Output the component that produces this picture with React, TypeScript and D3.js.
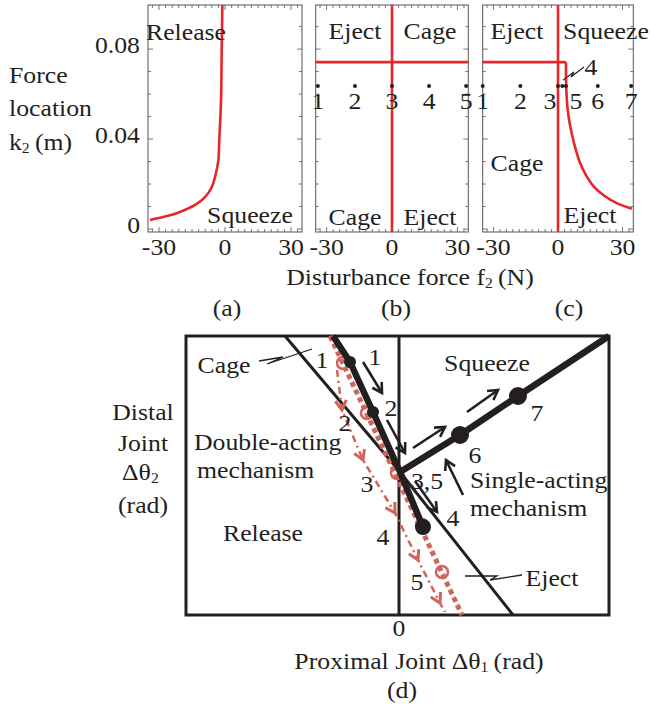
import React from "react";
import * as d3 from "d3";

// ---------- data: panels (a)-(c) ----------
const forceTicks = [-30, 0, 30];
const forceTickLabels = ["-30", "0", "30"];
const kTicks = [0, 0.04, 0.08];
const kTickLabels = ["0", "0.04", "0.08"];

const releaseF = [-1.2, -1.5, -1.8, -2.6, -3.0, -4.1, -6.0, -9.1, -13.6, -20.5, -28.2, -34.1];
const releaseK = [0.0996, 0.0796, 0.0573, 0.0396, 0.0307, 0.0249, 0.0187, 0.0142, 0.0107, 0.0076, 0.0053, 0.004];

const thresholdK = 0.0742;
const ejectF = [3.7, 3.8, 4.4, 5.6, 7.5, 10.0, 13.0, 17.0, 21.5, 27.3, 34.3];
const ejectK = [0.0742, 0.064, 0.054, 0.046, 0.038, 0.03, 0.024, 0.0185, 0.0148, 0.0115, 0.009];

const dotK = 0.0636;
const bDotF = [-34, -17, 0, 17, 34];
const bDotLabels = ["1", "2", "3", "4", "5"];
const cDotF = [-35, -17.5, 0, 2, 3.7, 18.5, 34];
const cDotLabels = ["1", "2", "3", "4", "5", "6", "7"];
const cLeaderF = [2.3, 7.4, 6.0, 12.1];
const cLeaderK = [0.0662, 0.0698, 0.0676, 0.072];

// ---------- data: panel (d) ----------
const boundaryU = [-1.14, 0.01, 1.14];
const boundaryV = [1.36, 0, -1.43];
const doubleU = [-0.66, -0.49, -0.26, 0.01, 0.24];
const doubleV = [1.36, 1.1, 0.6, 0, -0.55];
const singleU = [0.01, 0.61, 1.19, 2.1];
const singleV = [0, 0.37, 0.76, 1.36];
const blackDotU = [-0.49, -0.26, 0.24, 0.61, 1.19];
const blackDotV = [1.1, 0.6, -0.55, 0.37, 0.76];
const blackDotSize = [6, 6, 8, 9, 9];
const redPathU = [-0.69, 0.63];
const redPathV = [1.36, -1.43];
const redCircleU = [-0.56, -0.32, -0.02, 0.23, 0.43];
const redCircleV = [1.09, 0.59, -0.01, -0.53, -1.0];
const redDashU = [-0.62, -0.57, -0.36, -0.04, 0.19, 0.41, 0.46];
const redDashV = [1.02, 0.62, 0.12, -0.41, -0.88, -1.31, -1.4];
// arrows: [u0, v0, u1, v1]
const arrowsD = [
  [-0.36, 1.1, -0.17, 0.79],
  [-0.12, 0.52, 0.06, 0.19],
  [0.16, -0.09, 0.38, -0.4],
  [0.64, -0.23, 0.47, 0.12],
  [0.14, 0.24, 0.46, 0.45],
  [0.68, 0.6, 0.99, 0.82],
];
const cageLeaderU = [-1.4, -1.16, -1.32, -0.87];
const cageLeaderV = [1.11, 1.15, 1.08, 1.23];
const ejectLeaderU = [0.66, 0.98, 0.91, 1.23];
const ejectLeaderV = [-1.04, -1.04, -1.08, -1.03];

const FONT = "'Liberation Serif', 'Times New Roman', Times, serif";
const FS = 23;
const SX = 1.12;
const INK = "#231f20";
const RED = "#e8262a";
const SALMON = "#d3645b";

function Txt({ x, y, anchor = "middle", size = FS, children }: any) {
  return (
    <text
      transform={`translate(${x},${y}) scale(${SX},1)`}
      textAnchor={anchor}
      dominantBaseline="central"
      fontSize={size}
      fontFamily={FONT}
      fill={INK}
    >
      {children}
    </text>
  );
}

function Sub({ children }: any) {
  return (
    <>
      <tspan fontSize={14} dy={6}>{children}</tspan>
      <tspan dy={-6}>{"\u2009"}</tspan>
    </>
  );
}

function arrowHead(x0: number, y0: number, x1: number, y1: number, len = 11) {
  const a = Math.atan2(y1 - y0, x1 - x0);
  const a1 = a + (Math.PI * 5) / 6;
  const a2 = a - (Math.PI * 5) / 6;
  return `M${x1 + len * Math.cos(a1)},${y1 + len * Math.sin(a1)}L${x1},${y1}L${x1 + len * Math.cos(a2)},${y1 + len * Math.sin(a2)}`;
}

export default function App() {
  const yK = d3.scaleLinear().domain([-0.00133, 0.0996]).range([232, 5]);
  const panels = [
    { x0: 148, x1: 302 },
    { x0: 315.7, x1: 468.3 },
    { x0: 482.7, x1: 633.3 },
  ];
  const xs = panels.map((p) => d3.scaleLinear().domain([-35, 35]).range([p.x0, p.x1]));
  const curve = d3.curveCatmullRom.alpha(0.5);

  const minorF = d3.range(-33, 34, 3);
  const minorK = d3.range(0, 0.1, 0.01);

  const frame = (i: number) => {
    const x = xs[i];
    const [l, r] = x.range();
    const [b, t] = yK.range();
    return (
      <g key={"f" + i}>
        <rect x={l} y={t} width={r - l} height={b - t} fill="none" stroke="#555" strokeWidth={1} />
        {minorF.map((f) => {
          const big = f % 30 === 0;
          const L = big ? 5 : 3;
          return (
            <g key={f} stroke="#555" strokeWidth={0.8}>
              <line x1={x(f)} x2={x(f)} y1={b} y2={b - L} />
              <line x1={x(f)} x2={x(f)} y1={t} y2={t + L} />
            </g>
          );
        })}
        {minorK.map((k, j) => {
          const big = j % 4 === 0;
          const L = big ? 5 : 3;
          return (
            <g key={j} stroke="#555" strokeWidth={0.8}>
              <line x1={l} x2={l + L} y1={yK(k)} y2={yK(k)} />
              <line x1={r} x2={r - L} y1={yK(k)} y2={yK(k)} />
            </g>
          );
        })}
        {forceTicks.map((f, j) => (
          <Txt key={"xl" + j} x={x(f)} y={246.7}>{forceTickLabels[j]}</Txt>
        ))}
      </g>
    );
  };

  const releasePath = d3
    .line<number>()
    .x((_, j) => xs[0](releaseF[j]))
    .y((_, j) => yK(releaseK[j]))
    .curve(curve)(releaseF) as string;

  const ejectPath = d3
    .line<number>()
    .x((_, j) => xs[2](ejectF[j]))
    .y((_, j) => yK(ejectK[j]))
    .curve(curve)(ejectF) as string;

  // panel (d)
  const xD = d3.scaleLinear().domain([-2.13, 2.1]).range([186, 609]);
  const yD = d3.scaleLinear().domain([-1.43, 1.36]).range([615, 336]);
  const poly = (U: number[], V: number[]) =>
    d3
      .line<number>()
      .x((_, j) => xD(U[j]))
      .y((_, j) => yD(V[j]))(U) as string;

  const cLeader = d3
    .line<number>()
    .x((_, j) => xs[2](cLeaderF[j]))
    .y((_, j) => yK(cLeaderK[j]))(cLeaderF) as string;

  return (
    <svg
      width={652}
      height={704}
      style={{ position: "absolute", left: 0, top: 0, background: "#fff" }}
    >
      <rect x={0} y={0} width={652} height={704} fill="#fff" />
      {/* y axis labels */}
      <Txt x={9} y={75} anchor="start">Force</Txt>
      <Txt x={9} y={108} anchor="start">location</Txt>
      <Txt x={9} y={142} anchor="start">
        k<Sub>2</Sub>(m)
      </Txt>
      {kTicks.map((k, j) => (
        <Txt key={k} x={140} y={yK(k) - 4} anchor="end">{kTickLabels[j]}</Txt>
      ))}

      {[0, 1, 2].map((i) => frame(i))}

      {/* panel a */}
      <path d={releasePath} fill="none" stroke={RED} strokeWidth={2.6} />
      <Txt x={186} y={32}>Release</Txt>
      <Txt x={250} y={215}>Squeeze</Txt>

      {/* panel b */}
      <line x1={xs[1](0)} x2={xs[1](0)} y1={yK.range()[1]} y2={yK.range()[0]} stroke={RED} strokeWidth={2.6} />
      <line x1={xs[1](-35)} x2={xs[1](35)} y1={yK(thresholdK)} y2={yK(thresholdK)} stroke={RED} strokeWidth={2.6} />
      {bDotF.map((f, j) => (
        <g key={"bd" + j}>
          <circle cx={xs[1](f)} cy={yK(dotK)} r={2} fill={INK} />
          <Txt x={xs[1](f)} y={101}>{bDotLabels[j]}</Txt>
        </g>
      ))}
      <Txt x={355} y={31}>Eject</Txt>
      <Txt x={430} y={31}>Cage</Txt>
      <Txt x={355} y={217}>Cage</Txt>
      <Txt x={430} y={217}>Eject</Txt>

      {/* panel c */}
      <line x1={xs[2](0)} x2={xs[2](0)} y1={yK.range()[1]} y2={yK.range()[0]} stroke={RED} strokeWidth={2.6} />
      <line x1={xs[2](-35)} x2={xs[2](ejectF[0])} y1={yK(thresholdK)} y2={yK(thresholdK)} stroke={RED} strokeWidth={2.6} />
      <path d={ejectPath} fill="none" stroke={RED} strokeWidth={2.6} />
      {cDotF.map((f, j) => (
        <circle key={"cd" + j} cx={xs[2](f)} cy={yK(dotK)} r={2} fill={INK} />
      ))}
      {cDotF.map((f, j) => {
        if (j === 3) return null;
        const dx = j === 2 ? -8 : j === 4 ? 10 : 0;
        return (
          <Txt key={"cl" + j} x={xs[2](f) + dx} y={101}>{cDotLabels[j]}</Txt>
        );
      })}
      <path d={cLeader} fill="none" stroke={INK} strokeWidth={1.2} />
      <Txt x={591} y={67}>{cDotLabels[3]}</Txt>
      <Txt x={517} y={31}>Eject</Txt>
      <Txt x={606} y={31}>Squeeze</Txt>
      <Txt x={517} y={163}>Cage</Txt>
      <Txt x={590} y={215}>Eject</Txt>

      <Txt x={410} y={277}>
        Disturbance force f<Sub>2</Sub>(N)
      </Txt>
      <Txt x={227} y={308}>(a)</Txt>
      <Txt x={396} y={308}>(b)</Txt>
      <Txt x={569} y={308}>(c)</Txt>

      {/* panel d */}
      <rect x={xD(-2.13)} y={yD(1.36)} width={xD(2.1) - xD(-2.13)} height={yD(-1.43) - yD(1.36)} fill="none" stroke={INK} strokeWidth={3} />
      <line x1={xD(0)} x2={xD(0)} y1={yD(1.36)} y2={yD(-1.43)} stroke={INK} strokeWidth={3} />
      <path d={poly(boundaryU, boundaryV)} fill="none" stroke={INK} strokeWidth={3} />

      {/* red trajectory */}
      <path d={poly(redPathU, redPathV)} fill="none" stroke={SALMON} strokeWidth={5} strokeDasharray="5 3.5" />
      <path d={poly(redDashU, redDashV)} fill="none" stroke={SALMON} strokeWidth={2.5} strokeDasharray="7 4 2 4" />
      {redDashU.slice(1, 6).map((u, k) => {
        const j = k + 1;
        const x0 = xD(redDashU[j - 1]), y0 = yD(redDashV[j - 1]);
        const x1 = xD(u), y1 = yD(redDashV[j]);
        return <path key={"ch" + j} d={arrowHead(x0, y0, x1, y1, 11)} fill="none" stroke={SALMON} strokeWidth={3} />;
      })}
      {redCircleU.map((u, j) => (
        <circle key={"rc" + j} cx={xD(u)} cy={yD(redCircleV[j])} r={6} fill="none" stroke={SALMON} strokeWidth={2.5} />
      ))}

      {/* black trajectory */}
      <path d={poly(doubleU, doubleV)} fill="none" stroke={INK} strokeWidth={6.5} strokeLinejoin="round" />
      <path d={poly(singleU, singleV)} fill="none" stroke={INK} strokeWidth={6.5} strokeLinejoin="round" />
      {blackDotU.map((u, j) => (
        <circle key={"bk" + j} cx={xD(u)} cy={yD(blackDotV[j])} r={blackDotSize[j]} fill={INK} />
      ))}
      {arrowsD.map((a, j) => {
        const x0 = xD(a[0]), y0 = yD(a[1]), x1 = xD(a[2]), y1 = yD(a[3]);
        return (
          <g key={"ar" + j} fill="none" stroke={INK} strokeWidth={2.6}>
            <line x1={x0} y1={y0} x2={x1} y2={y1} />
            <path d={arrowHead(x0, y0, x1, y1, 11)} />
          </g>
        );
      })}
      <path d={poly(cageLeaderU, cageLeaderV)} fill="none" stroke={INK} strokeWidth={1.3} />
      <path d={poly(ejectLeaderU, ejectLeaderV)} fill="none" stroke={INK} strokeWidth={1.3} />

      <Txt x={224} y={365}>Cage</Txt>
      <Txt x={322} y={360}>1</Txt>
      <Txt x={345} y={423}>2</Txt>
      <Txt x={367} y={484}>3</Txt>
      <Txt x={383} y={537}>4</Txt>
      <Txt x={417} y={582}>5</Txt>
      <Txt x={375} y={357}>1</Txt>
      <Txt x={391} y={408}>2</Txt>
      <Txt x={427} y={481}>3,5</Txt>
      <Txt x={453} y={518}>4</Txt>
      <Txt x={475} y={455}>6</Txt>
      <Txt x={537} y={413}>7</Txt>
      <Txt x={487} y={363}>Squeeze</Txt>
      <Txt x={470} y={480} anchor="start">Single-acting</Txt>
      <Txt x={470} y={508} anchor="start">mechanism</Txt>
      <Txt x={194} y={442} anchor="start">Double-acting</Txt>
      <Txt x={197} y={470} anchor="start">mechanism</Txt>
      <Txt x={263} y={533}>Release</Txt>
      <Txt x={552} y={578}>Eject</Txt>

      <Txt x={143} y={412}>Distal</Txt>
      <Txt x={143} y={443}>Joint</Txt>
      <Txt x={143} y={472}>
        Δθ<Sub>2</Sub>
      </Txt>
      <Txt x={143} y={505}>(rad)</Txt>

      <Txt x={xD(0)} y={628}>0</Txt>
      <Txt x={419} y={661}>
        Proximal Joint Δθ<Sub>1</Sub>(rad)
      </Txt>
      <Txt x={402} y={690}>(d)</Txt>
    </svg>
  );
}
